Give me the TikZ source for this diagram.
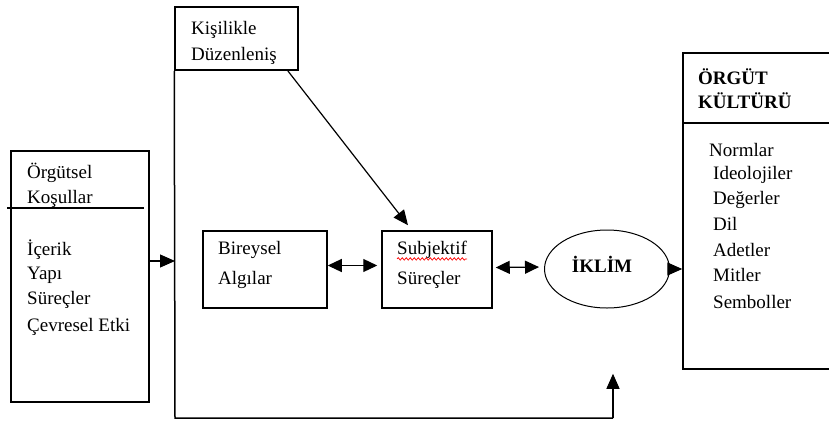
\documentclass[tikz,border=0pt]{standalone}
\usepackage{fontspec}
\setmainfont{Liberation Serif}
\usetikzlibrary{positioning,arrows.meta,shapes.geometric,decorations.pathmorphing}

\begin{document}
\begin{tikzpicture}[x=1pt,y=-1pt,
	box/.style={draw, line width=1.5pt, inner sep=0pt},
	txt/.style={anchor=west, inner sep=0pt},
	con/.style={line width=1.2pt},
	tip/.style={-{Triangle[length=15pt,width=13pt]}},
	both/.style={{Triangle[length=14pt,width=13pt]}-{Triangle[length=14pt,width=13pt]}}]
	\tikzstyle{every node}+=[font=\fontsize{19}{22}\selectfont]
	\useasboundingbox (0,0) rectangle (829,423);
	\node [box, minimum width=138pt, minimum height=251pt] (kosul) at (80,276.5) {};
	\draw [line width=1.2pt] (7,208) -- (144,208);
	\node [txt] (kosul1) at (27,173) {Örgütsel};
	\node [txt] (kosul2) at (27,199) {Koşullar};
	\node [txt] (kosul3) at (27,250) {İçerik};
	\node [txt] (kosul4) at (27,275) {Yapı};
	\node [txt] (kosul5) at (27,300) {Süreçler};
	\node [txt] (kosul6) at (27,327) {Çevresel Etki};
	\node [box, minimum width=123pt, minimum height=63pt] (kisilik) at (236.5,38.5) {};
	\node [txt] (kisilik1) at (191,30) {Kişilikle};
	\node [txt] (kisilik2) at (191,56) {Düzenleniş};
	\node [box, minimum width=124pt, minimum height=77pt] (bireysel) at (265,269.5) {};
	\node [txt] (bireysel1) at (218,250) {Bireysel};
	\node [txt] (bireysel2) at (218,280) {Algılar};
	\node [box, minimum width=110pt, minimum height=77pt] (subj) at (437,269.5) {};
	\node [txt] (subj1) at (397,250) {Subjektif};
	\node [txt] (subj2) at (397,280) {Süreçler};
	\draw [red, line width=0.7pt, decorate, decoration={snake, amplitude=1.2pt, segment length=4pt}] (subj1.south west) -- (subj1.south east);
	\node [draw, ellipse, line width=1pt, minimum width=125pt, minimum height=78pt] (iklim) at (607,269) {};
	\node [inner sep=0pt, font=\fontsize{19}{22}\selectfont\bfseries] (iklim1) at (602,264) {İKLİM};
	\node [box, minimum width=152pt, minimum height=316pt] (kultur) at (759,211) {};
	\draw [line width=1.5pt] (kultur.west |- 0,123) -- (835,123);
	\node [txt, font=\fontsize{19}{22}\selectfont\bfseries] (kultur1) at (698,77) {ÖRGÜT};
	\node [txt, font=\fontsize{19}{22}\selectfont\bfseries] (kultur2) at (698,101) {KÜLTÜRÜ};
	\node [txt] (kultur3) at (709,150) {Normlar};
	\node [txt] (kultur4) at (713,175) {Ideolojiler};
	\node [txt] (kultur5) at (713,200) {Değerler};
	\node [txt] (kultur6) at (713,224) {Dil};
	\node [txt] (kultur7) at (713,250) {Adetler};
	\node [txt] (kultur8) at (713,275) {Mitler};
	\node [txt] (kultur9) at (713,302) {Semboller};
	\coordinate (frameIn) at (175,261);
	\coordinate (frameBL) at (175,418);
	\coordinate (frameBR) at (613,418);
	\draw [con, line width=1.5pt] (kisilik.south west) -- (frameBL) -- (frameBR);
	\draw [con, tip, shorten >=4pt] (frameBR) -- (kultur.south -| frameBR);
	\draw [con, tip] (kosul.east |- frameIn) -- (frameIn);
	\draw [con, tip] ([xshift=-11pt]kisilik.south east) -- ([xshift=-29pt,yshift=5pt]subj.north);
	\draw [con, both, shorten >=4pt] ([yshift=4pt]bireysel.east) -- ([yshift=4pt]subj.west);
	\draw [con, both, shorten <=3pt, shorten >=5pt] ([yshift=2pt]subj.east) -- ([yshift=2pt]iklim.west);
	\draw [con, tip] (iklim.east) -- (kultur.west |- iklim.east);
\end{tikzpicture}
\end{document}
